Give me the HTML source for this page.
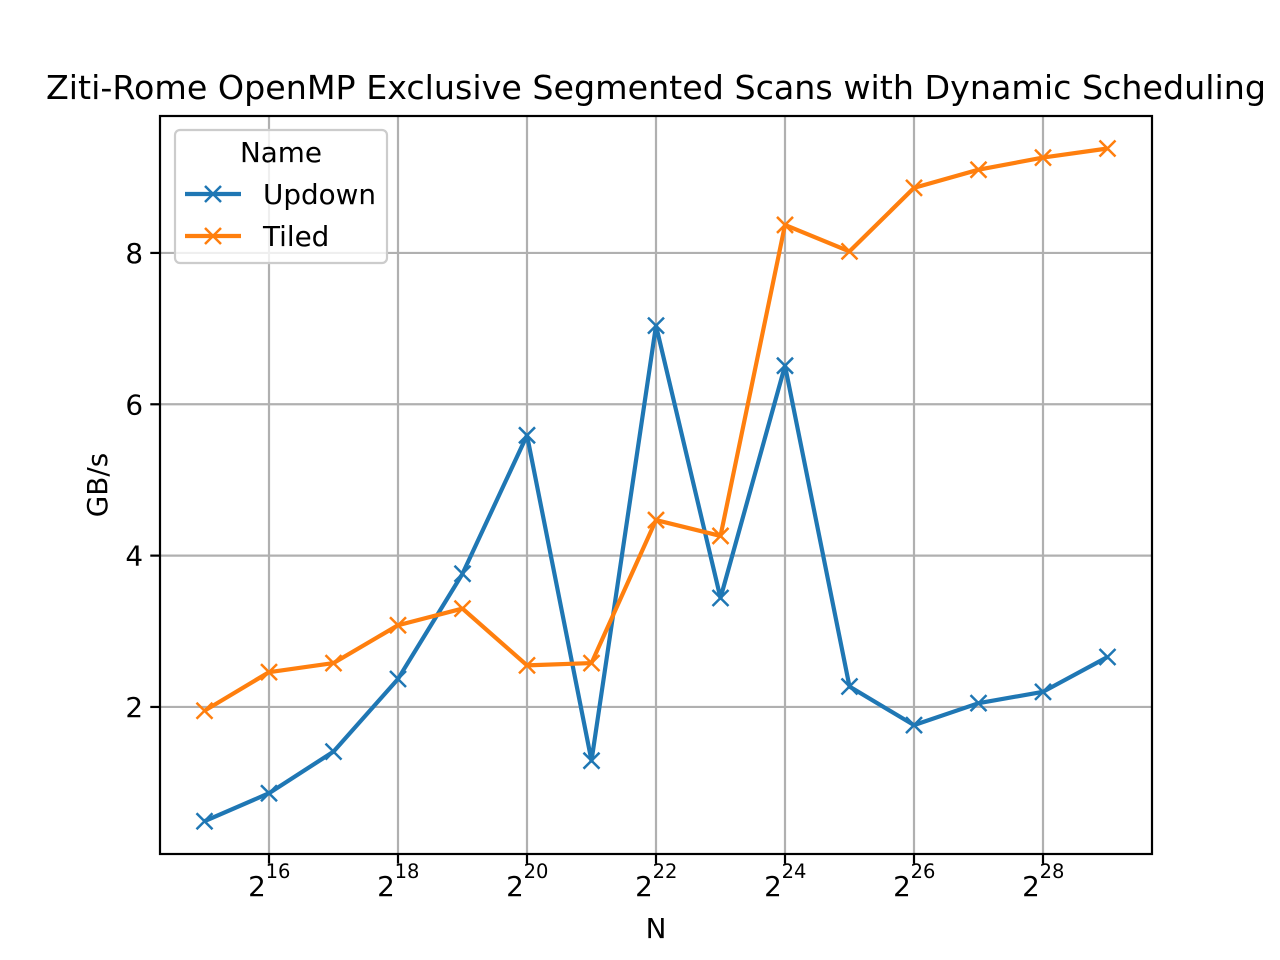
<!DOCTYPE html>
<html><head><meta charset="utf-8"><style>
html,body{margin:0;padding:0;background:#fff;}
svg{display:block;font-family:"DejaVu Sans","Liberation Sans",sans-serif;}
</style></head><body>
<svg id="chart" width="1280" height="960" viewBox="0 0 1280 960">
<rect x="0" y="0" width="1280" height="960" fill="#fff"/>
<text x="656" y="99" font-size="33.3" text-anchor="middle" fill="#000">Ziti-Rome OpenMP Exclusive Segmented Scans with Dynamic Scheduling</text>
<g id="grid"></g>
<g id="ticks"></g>
<g id="series"></g>
<rect x="160" y="116" width="992" height="738" fill="none" stroke="#000" stroke-width="2.2"/>
<text x="656" y="938" font-size="27.8" text-anchor="middle">N</text>
<text x="107" y="485" font-size="27.8" text-anchor="middle" transform="rotate(-90 107 485)">GB/s</text>
<g>
<rect x="175" y="130" width="212" height="133" rx="5" fill="#fff" fill-opacity="0.8" stroke="#ccc" stroke-width="2.2"/>
<text x="281" y="162" font-size="27.8" text-anchor="middle">Name</text>
<g>
<line x1="185" y1="194" x2="241" y2="194" stroke="#1f77b4" stroke-width="4.2"/>
<path d="M205,186 l16,16 M221,186 l-16,16" stroke="#1f77b4" stroke-width="2.5"/>
<text x="263" y="204" font-size="27.8">Updown</text></g>
<g>
<line x1="185" y1="236" x2="241" y2="236" stroke="#ff7f0e" stroke-width="4.2"/>
<path d="M205,228 l16,16 M221,228 l-16,16" stroke="#ff7f0e" stroke-width="2.5"/>
<text x="263" y="246" font-size="27.8">Tiled</text></g>
</g>
</svg>
<script>
const exponents=[15,16,17,18,19,20,21,22,23,24,25,26,27,28,29];
const updown=[0.49,0.86,1.41,2.37,3.76,5.59,1.29,7.04,3.44,6.51,2.27,1.76,2.05,2.20,2.66];
const tiled=[1.95,2.46,2.58,3.08,3.30,2.55,2.58,4.47,4.26,8.37,8.02,8.86,9.10,9.26,9.38];
const xTicks=[16,18,20,22,24,26,28];
const yTicks=[2,4,6,8];
const NS='http://www.w3.org/2000/svg';
const L=160,R=1152,T=116,B=854;
const xs=e=>269+(e-16)*64.5;
const ys=v=>858.3-v*75.67;
function mk(tag,attrs,parent){const el=document.createElementNS(NS,tag);for(const k in attrs)el.setAttribute(k,attrs[k]);parent.appendChild(el);return el;}
const grid=document.getElementById('grid'),ticks=document.getElementById('ticks'),series=document.getElementById('series');
xTicks.forEach(e=>{const x=xs(e);
 const g=mk('line',{x1:x,x2:x,y1:T,y2:B,stroke:'#b0b0b0','stroke-width':2.2},grid);
 
 
 mk('line',{x1:x,x2:x,y1:B,y2:B+9.7,stroke:'#000','stroke-width':2.2},ticks);
 const t=mk('text',{x:x-12,y:896,'font-size':27.8,'text-anchor':'middle'},ticks);
 
 
 t.textContent='2';
 const s=mk('text',{x:x+9,y:878,'font-size':19.5,'text-anchor':'middle'},ticks);
 
 
 s.textContent=String(e);
});
yTicks.forEach(v=>{const y=ys(v);
 const g=mk('line',{x1:L,x2:R,y1:y,y2:y,stroke:'#b0b0b0','stroke-width':2.2},grid);
 
 
 mk('line',{x1:L-9.7,x2:L,y1:y,y2:y,stroke:'#000','stroke-width':2.2},ticks);
 const t=mk('text',{x:L-17,y:y+10,'font-size':27.8,'text-anchor':'end'},ticks);
 
 
 t.textContent=String(v);
});
function draw(vals,color,name){
 const pts=exponents.map((e,i)=>[xs(e),ys(vals[i])]);
 const p=mk('polyline',{points:pts.map(p=>p.join(',')).join(' '),fill:'none',stroke:color,'stroke-width':4.2,'stroke-linejoin':'round'},series);
 
 
 pts.forEach(([x,y])=>{
  const m=mk('path',{d:`M${x-8},${y-8} l16,16 M${x+8},${y-8} l-16,16`,stroke:color,'stroke-width':2.5},series);
  
  
 });
}
draw(updown,'#1f77b4','updown');
draw(tiled,'#ff7f0e','tiled');
</script>
</body></html>
